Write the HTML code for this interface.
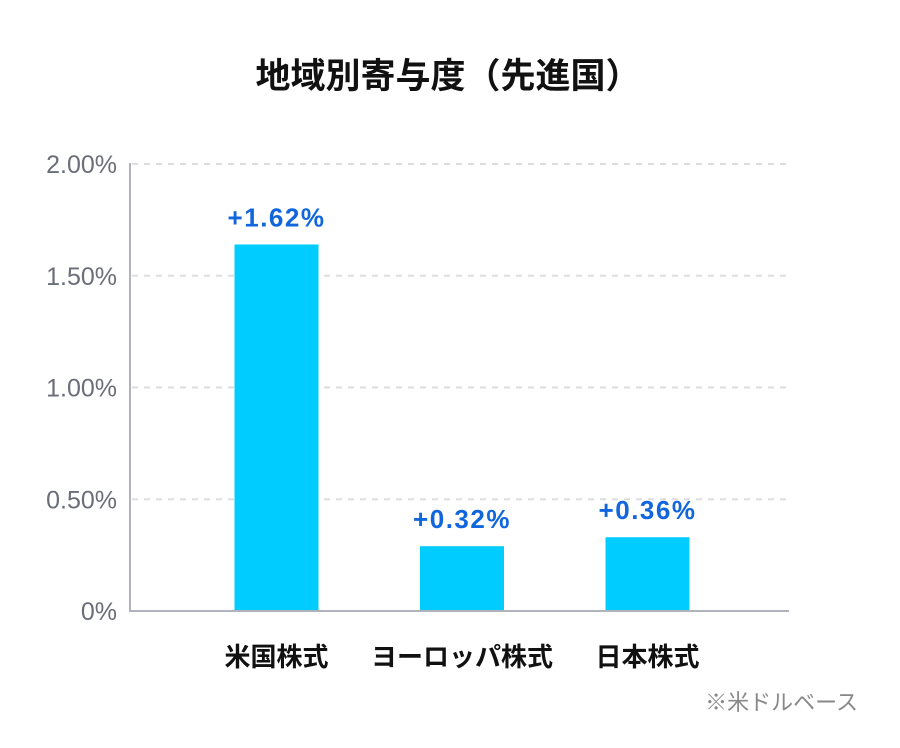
<!DOCTYPE html>
<html><head><meta charset="utf-8"><style>
body{margin:0;background:#fff;width:900px;height:743px;overflow:hidden;font-family:"Liberation Sans","Noto Sans CJK JP",sans-serif}
</style></head><body>
<svg id="chart" width="900" height="743" xmlns="http://www.w3.org/2000/svg" font-family="'Liberation Sans','Noto Sans CJK JP',sans-serif">
<text x="448" y="88" text-anchor="middle" font-size="35" font-weight="bold" fill="#111">地域別寄与度（先進国）</text>
<g id="grid"></g><g id="bars"></g>
<line x1="130" y1="163" x2="130" y2="612" stroke="#b0b3bb" stroke-width="2"/>
<line x1="129" y1="611" x2="789" y2="611" stroke="#b0b3bb" stroke-width="2"/>
<text x="858" y="710" text-anchor="end" font-size="22" fill="#888">※米ドルベース</text>
</svg>
<script>
const categories=["米国株式","ヨーロッパ株式","日本株式"];
const values=[1.64,0.29,0.33];
const valueLabels=["+1.62%","+0.32%","+0.36%"];
const ticks=[0,0.5,1,1.5,2];
const tickLabels=["0%","0.50%","1.00%","1.50%","2.00%"];
const NS="http://www.w3.org/2000/svg";
const y=v=>611-v*(611-164)/2;
const xc=i=>276.5+i*185.5;
function mk(tag,attrs,parent,text){const e=document.createElementNS(NS,tag);for(const k in attrs)e.setAttribute(k,attrs[k]);if(text!=null)e.textContent=text;parent.appendChild(e);return e;}
const grid=document.getElementById('grid'),bars=document.getElementById('bars');
ticks.forEach((t,i)=>{
 if(t>0){const l=mk('line',{x1:132,x2:790,y1:y(t),y2:y(t),stroke:'#dcdde1','stroke-width':2,'stroke-dasharray':'6,6'},grid);
 
 }
 const tx=mk('text',{x:117,y:y(t)+9,'text-anchor':'end','font-size':25,fill:'#6b6e78'},grid,tickLabels[i]);
 
 
});
values.forEach((v,i)=>{
 const r=mk('rect',{x:xc(i)-42,y:y(v),width:84,height:611-y(v),fill:'#00ccff'},bars);
 
 
 const lb=mk('text',{x:xc(i),y:y(v)-18,'text-anchor':'middle','font-size':26,'font-weight':'bold',fill:'#1166dd','letter-spacing':'1.5'},bars,valueLabels[i]);
 
 
 const c=mk('text',{x:xc(i),y:666,'text-anchor':'middle','font-size':26,'font-weight':'bold',fill:'#111'},bars,categories[i]);
 
 
});
</script>
</body></html>
